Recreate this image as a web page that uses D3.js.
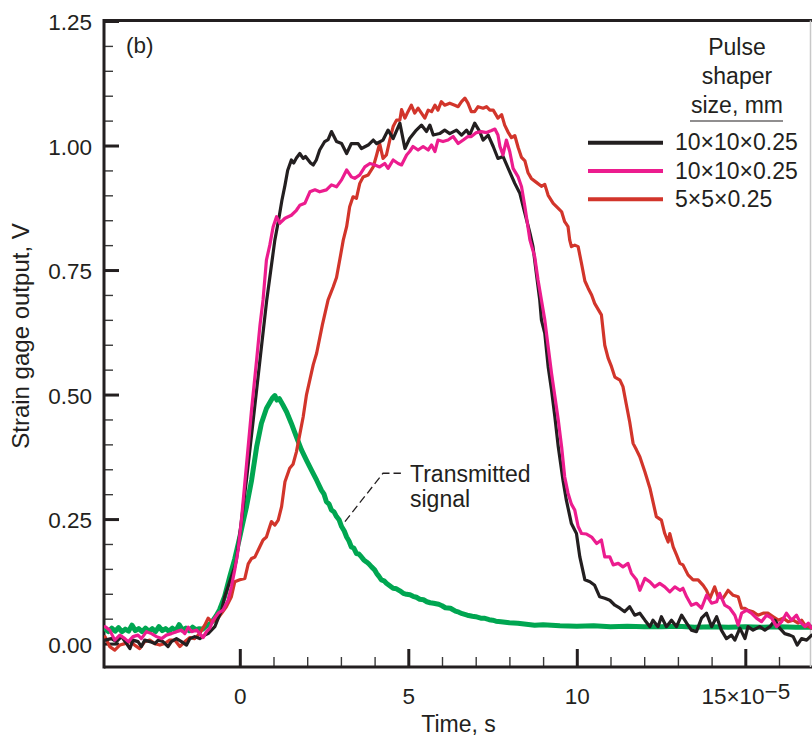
<!DOCTYPE html>
<html>
<head>
<meta charset="utf-8">
<script src="https://cdn.jsdelivr.net/npm/d3@7"></script>
<style>
body { margin: 0; background: #fff; }
svg text { font-family: "Liberation Sans", Arial, Helvetica, sans-serif; fill: #231f20; }
</style>
</head>
<body>
<div id="chart"></div>
<script>
// time in units of 1e-5 s, output in V
var blackData = [[-4.0,0.007],[-3.81,0.010],[-3.66,0.004],[-3.51,0.014],[-3.36,0.000],[-3.26,-0.010],[-3.17,0.007],[-3.02,0.004],[-2.92,-0.006],[-2.82,0.007],[-2.67,0.004],[-2.52,0.000],[-2.42,0.007],[-2.28,0.004],[-2.13,-0.006],[-2.03,0.004],[-1.88,0.010],[-1.73,0.004],[-1.58,-0.003],[-1.48,0.010],[-1.34,0.014],[-1.19,0.010],[-1.04,0.017],[-0.94,0.020],[-0.84,0.027],[-0.74,0.034],[-0.64,0.051],[-0.54,0.067],[-0.45,0.094],[-0.35,0.114],[-0.25,0.134],[-0.15,0.154],[-0.10,0.168],[0,0.22],[0.2,0.33],[0.4,0.45],[0.6,0.57],[0.8,0.69],[0.92,0.75],[1.04,0.81],[1.15,0.85],[1.25,0.89],[1.34,0.92],[1.42,0.95],[1.53,0.971],[1.6,0.965],[1.68,0.975],[1.78,0.984],[1.88,0.974],[1.95,0.978],[2.03,0.971],[2.1,0.965],[2.18,0.961],[2.27,0.971],[2.37,0.991],[2.52,1.008],[2.62,1.012],[2.72,1.028],[2.87,1.008],[3.02,1.004],[3.17,0.984],[3.31,1.004],[3.51,1.004],[3.61,0.994],[3.81,1.001],[3.96,1.011],[4.06,1.004],[4.25,1.011],[4.40,1.031],[4.55,1.014],[4.75,1.045],[4.90,0.994],[5.04,1.014],[5.24,1.031],[5.39,1.041],[5.54,1.028],[5.64,1.041],[5.74,1.021],[5.93,1.024],[6.08,1.031],[6.23,1.024],[6.43,1.031],[6.58,1.021],[6.73,1.031],[6.82,1.021],[6.97,1.045],[7.12,1.028],[7.22,1.011],[7.37,1.021],[7.52,0.998],[7.66,0.974],[7.81,0.978],[8.01,0.947],[8.16,0.924],[8.31,0.904],[8.46,0.864],[8.61,0.824],[8.70,0.797],[8.80,0.743],[8.90,0.690],[8.95,0.650],[9.05,0.623],[9.15,0.556],[9.25,0.509],[9.35,0.455],[9.45,0.395],[9.59,0.328],[9.69,0.288],[9.84,0.241],[9.99,0.221],[10.09,0.174],[10.24,0.128],[10.39,0.124],[10.53,0.117],[10.68,0.094],[10.83,0.091],[10.98,0.087],[11.13,0.077],[11.28,0.071],[11.42,0.064],[11.57,0.074],[11.72,0.057],[11.87,0.061],[12.02,0.047],[12.17,0.034],[12.26,0.047],[12.41,0.034],[12.51,0.054],[12.66,0.034],[12.81,0.047],[12.96,0.034],[13.11,0.057],[13.26,0.041],[13.40,0.027],[13.55,0.024],[13.70,0.051],[13.85,0.061],[14.00,0.034],[14.15,0.054],[14.29,0.027],[14.44,0.010],[14.59,0.017],[14.69,0.007],[14.84,0.031],[14.99,0.010],[15.08,0.034],[15.23,0.027],[15.43,0.034],[15.58,0.027],[15.73,0.034],[15.88,0.047],[16.02,0.031],[16.17,0.020],[16.32,0.017],[16.42,0.014],[16.54,-0.003],[16.67,0.010],[16.82,0.007],[16.97,0.017]];

var pinkData = [[-4.0,0.034],[-3.86,0.027],[-3.71,0.007],[-3.56,0.017],[-3.41,0.010],[-3.31,0.004],[-3.17,0.014],[-3.02,0.017],[-2.92,0.010],[-2.77,0.024],[-2.62,0.020],[-2.47,0.014],[-2.32,0.010],[-2.18,0.017],[-2.03,0.020],[-1.88,0.024],[-1.73,0.027],[-1.63,0.020],[-1.53,0.033],[-1.43,0.024],[-1.28,0.027],[-1.19,0.020],[-1.09,0.012],[-0.99,0.024],[-0.89,0.031],[-0.79,0.047],[-0.64,0.061],[-0.50,0.067],[-0.35,0.087],[-0.25,0.114],[-0.15,0.148],[-0.05,0.188],[0.05,0.25],[0.2,0.36],[0.35,0.47],[0.5,0.57],[0.6,0.64],[0.69,0.69],[0.79,0.77],[0.89,0.80],[0.99,0.837],[1.09,0.857],[1.19,0.844],[1.34,0.854],[1.53,0.860],[1.68,0.870],[1.78,0.880],[1.93,0.884],[2.08,0.907],[2.23,0.911],[2.37,0.907],[2.57,0.911],[2.72,0.921],[2.87,0.917],[3.02,0.931],[3.17,0.951],[3.31,0.937],[3.41,0.934],[3.56,0.941],[3.71,0.957],[3.86,0.964],[4.01,0.961],[4.15,0.957],[4.30,0.964],[4.40,0.954],[4.55,0.971],[4.70,0.964],[4.80,0.961],[4.95,0.981],[5.04,0.988],[5.14,0.998],[5.29,0.991],[5.44,0.998],[5.59,0.991],[5.69,1.001],[5.79,0.988],[5.88,1.011],[6.03,1.008],[6.18,1.011],[6.33,1.018],[6.48,1.004],[6.63,1.011],[6.77,1.018],[6.87,1.018],[7.02,1.026],[7.17,1.028],[7.32,1.026],[7.47,1.030],[7.57,1.033],[7.66,1.021],[7.72,0.998],[7.81,0.981],[7.91,1.011],[8.01,0.988],[8.11,0.954],[8.26,0.937],[8.36,0.917],[8.46,0.877],[8.61,0.810],[8.75,0.777],[8.85,0.730],[8.95,0.690],[9.05,0.650],[9.15,0.596],[9.25,0.543],[9.35,0.496],[9.45,0.449],[9.55,0.395],[9.64,0.335],[9.74,0.302],[9.84,0.28],[9.94,0.268],[10.04,0.235],[10.14,0.221],[10.29,0.220],[10.44,0.214],[10.59,0.201],[10.73,0.208],[10.83,0.174],[10.98,0.174],[11.08,0.158],[11.23,0.161],[11.37,0.154],[11.52,0.161],[11.62,0.141],[11.77,0.128],[11.87,0.107],[12.02,0.131],[12.17,0.124],[12.31,0.114],[12.46,0.121],[12.61,0.114],[12.76,0.104],[12.91,0.114],[13.06,0.107],[13.15,0.111],[13.26,0.094],[13.40,0.077],[13.55,0.081],[13.70,0.071],[13.85,0.097],[14.00,0.081],[14.15,0.084],[14.24,0.101],[14.39,0.077],[14.54,0.071],[14.69,0.057],[14.79,0.037],[14.89,0.061],[15.04,0.067],[15.18,0.061],[15.33,0.051],[15.48,0.044],[15.63,0.057],[15.78,0.051],[15.93,0.034],[16.08,0.044],[16.22,0.061],[16.37,0.047],[16.52,0.057],[16.62,0.044],[16.77,0.034],[16.87,0.041],[16.97,0.031]];

var redData = [[-4.0,0.014],[-3.86,-0.006],[-3.71,-0.013],[-3.56,-0.003],[-3.41,0.000],[-3.26,0.004],[-3.12,-0.003],[-2.97,-0.010],[-2.82,0.004],[-2.67,0.007],[-2.52,0.000],[-2.37,-0.003],[-2.23,0.000],[-2.08,0.007],[-1.93,0.007],[-1.78,-0.006],[-1.63,0.004],[-1.48,0.012],[-1.34,0.010],[-1.19,0.020],[-1.04,0.037],[-0.94,0.051],[-0.84,0.044],[-0.69,0.047],[-0.54,0.061],[-0.40,0.074],[-0.25,0.094],[-0.15,0.124],[0.00,0.128],[0.15,0.131],[0.25,0.160],[0.35,0.171],[0.45,0.174],[0.59,0.194],[0.69,0.208],[0.79,0.214],[0.89,0.235],[0.94,0.245],[1.04,0.238],[1.14,0.248],[1.24,0.275],[1.34,0.325],[1.48,0.352],[1.58,0.360],[1.68,0.385],[1.78,0.420],[1.88,0.455],[1.98,0.500],[2.08,0.530],[2.18,0.560],[2.28,0.583],[2.45,0.640],[2.62,0.690],[2.77,0.716],[2.87,0.735],[2.97,0.772],[3.07,0.810],[3.17,0.837],[3.26,0.877],[3.36,0.897],[3.46,0.894],[3.56,0.924],[3.66,0.937],[3.81,0.941],[3.96,0.957],[4.06,0.981],[4.15,1.004],[4.25,0.974],[4.35,0.981],[4.45,1.011],[4.55,1.038],[4.65,1.051],[4.75,1.051],[4.80,1.072],[4.90,1.055],[4.99,1.068],[5.09,1.081],[5.19,1.065],[5.29,1.075],[5.39,1.065],[5.49,1.055],[5.59,1.071],[5.69,1.068],[5.79,1.081],[5.88,1.071],[5.98,1.088],[6.08,1.081],[6.23,1.085],[6.38,1.081],[6.48,1.078],[6.58,1.088],[6.68,1.095],[6.77,1.085],[6.87,1.068],[6.97,1.068],[7.07,1.078],[7.22,1.075],[7.32,1.078],[7.42,1.071],[7.52,1.071],[7.66,1.055],[7.77,1.062],[7.86,1.041],[7.96,1.027],[8.06,1.016],[8.16,1.020],[8.26,0.996],[8.36,0.976],[8.46,0.969],[8.55,0.946],[8.65,0.934],[8.80,0.926],[8.95,0.918],[9.05,0.922],[9.15,0.900],[9.30,0.884],[9.45,0.874],[9.55,0.867],[9.64,0.847],[9.74,0.837],[9.79,0.810],[9.84,0.797],[9.94,0.800],[10.04,0.797],[10.14,0.763],[10.24,0.728],[10.34,0.713],[10.44,0.700],[10.53,0.683],[10.59,0.676],[10.73,0.660],[10.83,0.599],[10.93,0.573],[11.03,0.556],[11.13,0.535],[11.28,0.529],[11.37,0.516],[11.47,0.480],[11.57,0.445],[11.67,0.402],[11.77,0.389],[11.87,0.375],[12.02,0.345],[12.17,0.312],[12.26,0.285],[12.36,0.255],[12.51,0.248],[12.61,0.221],[12.71,0.204],[12.76,0.221],[12.86,0.194],[12.96,0.178],[13.06,0.161],[13.15,0.158],[13.30,0.138],[13.45,0.128],[13.60,0.128],[13.75,0.117],[13.85,0.107],[13.95,0.091],[14.09,0.114],[14.19,0.094],[14.34,0.091],[14.49,0.107],[14.64,0.097],[14.79,0.094],[14.89,0.071],[14.99,0.071],[15.08,0.067],[15.23,0.064],[15.38,0.057],[15.53,0.061],[15.68,0.061],[15.83,0.054],[15.98,0.047],[16.12,0.051],[16.27,0.044],[16.42,0.047],[16.57,0.041],[16.67,0.047],[16.77,0.037],[16.87,0.034],[16.97,0.031]];

var greenData = [[-4.0,0.030],[-3.9,0.024],[-3.8,0.031],[-3.7,0.025],[-3.6,0.032],[-3.5,0.024],[-3.4,0.029],[-3.3,0.025],[-3.2,0.037],[-3.1,0.026],[-3.0,0.030],[-2.9,0.024],[-2.8,0.031],[-2.7,0.025],[-2.6,0.030],[-2.5,0.024],[-2.4,0.034],[-2.3,0.026],[-2.2,0.030],[-2.1,0.025],[-2.0,0.031],[-1.9,0.026],[-1.8,0.038],[-1.7,0.027],[-1.6,0.031],[-1.5,0.026],[-1.4,0.033],[-1.3,0.028],[-1.2,0.030],[-1.1,0.029],[-1.0,0.035],[-0.9,0.039],[-0.8,0.046],[-0.7,0.056],[-0.6,0.068],[-0.45,0.095],[-0.3,0.134],[-0.15,0.17],[0.0,0.214],[0.1,0.245],[0.2,0.275],[0.35,0.328],[0.5,0.395],[0.64,0.442],[0.79,0.472],[0.9,0.485],[0.97,0.493],[1.04,0.498],[1.1,0.489],[1.17,0.492],[1.28,0.479],[1.39,0.465],[1.53,0.442],[1.68,0.415],[1.83,0.389],[1.98,0.368],[2.13,0.348],[2.28,0.328],[2.42,0.308],[2.5,0.300],[2.57,0.285],[2.65,0.280],[2.72,0.268],[2.8,0.264],[2.87,0.255],[2.95,0.248],[3.02,0.235],[3.1,0.226],[3.17,0.214],[3.24,0.206],[3.31,0.194],[3.38,0.192],[3.46,0.181],[3.53,0.180],[3.61,0.174],[3.68,0.168],[3.76,0.164],[3.83,0.160],[3.91,0.154],[4.0,0.148],[4.06,0.141],[4.13,0.135],[4.20,0.128],[4.28,0.126],[4.35,0.121],[4.45,0.116],[4.55,0.111],[4.65,0.110],[4.75,0.106],[4.85,0.101],[4.95,0.099],[5.05,0.098],[5.14,0.095],[5.24,0.093],[5.34,0.089],[5.45,0.088],[5.55,0.084],[5.65,0.082],[5.75,0.081],[5.9,0.079],[6.0,0.076],[6.1,0.072],[6.25,0.071],[6.4,0.065],[6.5,0.063],[6.6,0.060],[6.75,0.057],[6.9,0.055],[7.0,0.054],[7.15,0.051],[7.25,0.051],[7.4,0.048],[7.5,0.047],[7.6,0.045],[7.75,0.044],[8.0,0.042],[8.25,0.041],[8.5,0.039],[8.75,0.037],[9.0,0.038],[9.5,0.036],[10.0,0.035],[10.5,0.036],[11.0,0.034],[11.5,0.035],[12.0,0.034],[12.5,0.034],[13.0,0.035],[13.5,0.033],[14.0,0.034],[14.5,0.033],[15.0,0.034],[15.5,0.033],[16.0,0.034],[16.5,0.033],[17.0,0.033]];

var legendLabels = ["10\u00d710\u00d70.25", "10\u00d710\u00d70.25", "5\u00d75\u00d70.25"];
var legendColors = ["#231f20", "#ec1c8e", "#d2352b"];
var legendTitle = ["Pulse", "shaper", "size, mm"];
var yMajor = [0, 0.25, 0.5, 0.75, 1.0, 1.25];
var xMajor = [0, 5, 10, 15];

var w = 812, h = 738;
var plotLeft = 104, plotRight = 812.7, plotTop = 20.5, plotBottom = 667;

var x = d3.scaleLinear().domain([-4, 17]).range([105, 812.7]);
var y = d3.scaleLinear().domain([-0.047, 1.25]).range([667, 21]);

var svg = d3.select("#chart").append("svg")
    .attr("width", w)
    .attr("height", h)
    .style("background", "#fff");

svg.append("defs").append("clipPath").attr("id", "clip")
    .append("rect")
    .attr("x", plotLeft).attr("y", plotTop)
    .attr("width", plotRight - plotLeft).attr("height", plotBottom - plotTop);

// minor ticks
var yMinor = d3.range(0, 1.2501, 0.05).filter(function (v) { return Math.abs(v / 0.25 - Math.round(v / 0.25)) > 0.01; });
var xMinor = d3.range(1, 17.01, 1).filter(function (v) { return v % 5 !== 0; });

svg.append("g")
    .attr("transform", "translate(" + plotLeft + ",0)")
    .call(d3.axisLeft(y).tickValues(yMinor).tickSize(-9).tickFormat(""))
    .call(function (g) {
        g.select(".domain").remove();
        g.selectAll("line").attr("stroke", "#3a3a3a").attr("stroke-width", 1.4);
    });

svg.append("g")
    .attr("transform", "translate(0," + plotBottom + ")")
    .call(d3.axisBottom(x).tickValues(xMinor).tickSize(-10).tickFormat(""))
    .call(function (g) {
        g.select(".domain").remove();
        g.selectAll("line").attr("stroke", "#3a3a3a").attr("stroke-width", 1.4);
    });

// major ticks with labels
svg.append("g")
    .attr("transform", "translate(" + plotLeft + ",0)")
    .call(d3.axisLeft(y).tickValues(yMajor).tickSize(-15).tickPadding(12).tickFormat(d3.format(".2f")))
    .call(function (g) {
        g.select(".domain").remove();
        g.selectAll("line").attr("stroke", "#231f20").attr("stroke-width", 3);
        g.selectAll("text").attr("font-size", 22.5).attr("dy", "0.38em")
            .style("font-family", "'Liberation Sans', Arial, sans-serif").attr("fill", "#231f20");
    });

svg.append("g")
    .attr("transform", "translate(0," + plotBottom + ")")
    .call(d3.axisBottom(x).tickValues(xMajor).tickSize(-18).tickPadding(21).tickFormat(d3.format("d")))
    .call(function (g) {
        g.select(".domain").remove();
        g.selectAll("line").attr("stroke", "#231f20").attr("stroke-width", 3);
        g.selectAll("text").attr("font-size", 22.5)
            .style("font-family", "'Liberation Sans', Arial, sans-serif").attr("fill", "#231f20")
            .each(function (d) {
                if (d === 15) {
                    var t = d3.select(this);
                    t.text("15\u00d710");
                    t.append("tspan").attr("dy", -5).text("\u22125");
                }
            });
    });

// frame
svg.append("line").attr("x1", plotLeft).attr("x2", plotLeft).attr("y1", plotTop - 1.5).attr("y2", plotBottom + 1.5)
    .attr("stroke", "#231f20").attr("stroke-width", 3);
svg.append("line").attr("x1", plotLeft).attr("x2", w).attr("y1", plotTop).attr("y2", plotTop)
    .attr("stroke", "#231f20").attr("stroke-width", 3);
svg.append("line").attr("x1", plotLeft).attr("x2", w).attr("y1", plotBottom).attr("y2", plotBottom)
    .attr("stroke", "#231f20").attr("stroke-width", 3);
svg.append("line").attr("x1", 810.5).attr("x2", 810.5).attr("y1", plotTop).attr("y2", plotBottom)
    .attr("stroke", "#c8c8c8").attr("stroke-width", 1.5);

// curves
var line = d3.line()
    .x(function (d) { return x(d[0]); })
    .y(function (d) { return y(d[1]); });

var plot = svg.append("g").attr("clip-path", "url(#clip)");

var series = [
    { data: greenData, color: "#00a651", width: 5 },
    { data: redData, color: legendColors[2], width: 3.2 },
    { data: blackData, color: legendColors[0], width: 3.2 },
    { data: pinkData, color: legendColors[1], width: 3.2 }
];

plot.selectAll("path.curve")
    .data(series)
    .enter()
    .append("path")
    .attr("class", "curve")
    .attr("d", function (d) { return line(d.data); })
    .attr("fill", "none")
    .attr("stroke", function (d) { return d.color; })
    .attr("stroke-width", function (d) { return d.width; })
    .attr("stroke-linejoin", "round")
    .attr("stroke-linecap", "round");

// panel label
svg.append("text").attr("x", 126).attr("y", 53).attr("font-size", 22.5).text("(b)");

// axis titles
svg.append("text")
    .attr("x", (105 + 812) / 2).attr("y", 732)
    .attr("text-anchor", "middle").attr("font-size", 23)
    .text("Time, s");

svg.append("text")
    .attr("transform", "translate(29," + 336 + ") rotate(-90)")
    .attr("text-anchor", "middle").attr("font-size", 24)
    .text("Strain gage output, V");

// legend
var legend = svg.append("g");
legend.selectAll("text.title")
    .data(legendTitle)
    .enter()
    .append("text")
    .attr("class", "title")
    .attr("x", 737)
    .attr("y", function (d, i) { return [55, 84, 113][i]; })
    .attr("text-anchor", "middle")
    .attr("font-size", 23)
    .text(function (d) { return d; });

legend.append("line").attr("x1", 690).attr("x2", 783).attr("y1", 121).attr("y2", 121)
    .attr("stroke", "#231f20").attr("stroke-width", 1.2);

var rows = legend.selectAll("g.row")
    .data(legendLabels)
    .enter()
    .append("g")
    .attr("class", "row")
    .attr("transform", function (d, i) { return "translate(0," + (142.7 + i * 28.3) + ")"; });

rows.append("line")
    .attr("x1", 588).attr("x2", 663)
    .attr("stroke", function (d, i) { return legendColors[i]; })
    .attr("stroke-width", 4);

rows.append("text")
    .attr("x", 675).attr("y", 7.5)
    .attr("font-size", 23)
    .text(function (d) { return d; });

// annotation for transmitted signal
var leader = [[3.12, 0.245], [4.25, 0.342], [4.78, 0.342]];
svg.append("path")
    .attr("d", d3.line().x(function (d) { return x(d[0]); }).y(function (d) { return y(d[1]); })(leader))
    .attr("fill", "none")
    .attr("stroke", "#231f20")
    .attr("stroke-width", 1.3)
    .attr("stroke-dasharray", "8,4");

svg.append("text").attr("x", x(5.05)).attr("y", 482).attr("font-size", 23).text("Transmitted");
svg.append("text").attr("x", x(5.05)).attr("y", 507).attr("font-size", 23).text("signal");
</script>
</body>
</html>
